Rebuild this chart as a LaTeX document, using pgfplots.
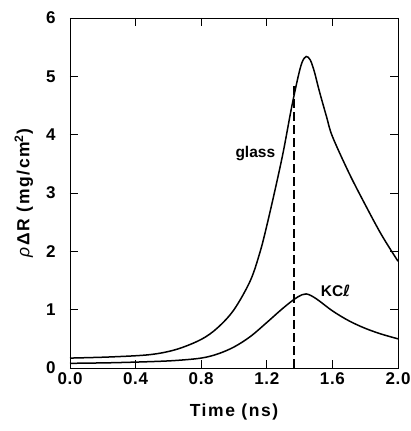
\documentclass[border=0pt]{standalone}
\usepackage{fontspec}
\setmainfont{Liberation Sans}
\newfontfamily\dejavu{DejaVu Sans}
\usepackage{pgfplots}
\pgfplotsset{compat=1.18}
\usetikzlibrary{calc}
\begin{document}
\begin{tikzpicture}
\begin{axis}[
  scale only axis=true,
  width=328pt, height=350pt,
  xmin=0, xmax=2, ymin=0, ymax=6,
  xtick={0,0.4,0.8,1.2,1.6,2.0},
  xticklabels={0.0,0.4,0.8,1.2,1.6,2.0},
  ytick={0,1,2,3,4,5,6},
  tick align=inside,
  major tick length=8pt,
  tick style={line width=0.7pt, black},
  axis line style={line width=0.8pt},
  ticklabel style={font=\fontsize{17}{19}\selectfont\bfseries\addfontfeatures{LetterSpace=4}},
  /pgf/number format/assume math mode=true,
  xticklabel style={yshift=-1pt},
  yticklabel style={xshift=-11pt},
  xlabel={\fontsize{17.5}{19}\selectfont\bfseries\addfontfeatures{LetterSpace=9}Time (ns)},
  ylabel={\fontsize{17.5}{19}\selectfont\bfseries\addfontfeatures{LetterSpace=9}\textit{\mdseries ρ}ΔR (mg/cm\textsuperscript{2})},
  xlabel style={yshift=-12pt},
  ylabel style={yshift=6pt},
  clip=false,
]
\addplot[black, line width=1.5pt, smooth, tension=0.55] coordinates {
 (0,0.17) (0.25,0.19) (0.49,0.23) (0.65,0.32) (0.8,0.49) (0.9,0.69) (1.0,1.0)
 (1.1,1.5) (1.16,2.0) (1.2,2.44) (1.25,3.05) (1.3,3.7) (1.35,4.45) (1.39,4.98)
 (1.415,5.24) (1.44,5.34) (1.465,5.28) (1.49,5.08) (1.52,4.75) (1.565,4.3)
 (1.6,3.97) (1.7,3.35) (1.8,2.8) (1.9,2.28) (2.0,1.83)
};
\addplot[black, line width=1.5pt, smooth, tension=0.55] coordinates {
 (0,0.08) (0.25,0.09) (0.5,0.11) (0.65,0.13) (0.8,0.17) (0.9,0.24) (1.0,0.36)
 (1.1,0.54) (1.2,0.78) (1.28,0.98) (1.34,1.12) (1.39,1.22) (1.44,1.27)
 (1.5,1.19) (1.6,0.98) (1.7,0.81) (1.8,0.68) (1.9,0.58) (2.0,0.5)
};
\addplot[black, line width=1.3pt, dash pattern=on 9pt off 4pt] coordinates {
 (1.365,0) (1.365,4.9)
};
\node[font=\fontsize{15.5}{17}\selectfont\bfseries] at (axis cs:1.13,3.68) {glass};
\node[font=\fontsize{15.5}{17}\selectfont\bfseries] at (axis cs:1.62,1.33) {KC{\dejavu\bfseries\itshape ℓ}};
\end{axis}
\pgfresetboundingbox
\path[use as bounding box] ($(current axis.south west)+(-70pt,-63pt)$) rectangle ($(current axis.north east)+(13pt,18pt)$);
\end{tikzpicture}
\end{document}
